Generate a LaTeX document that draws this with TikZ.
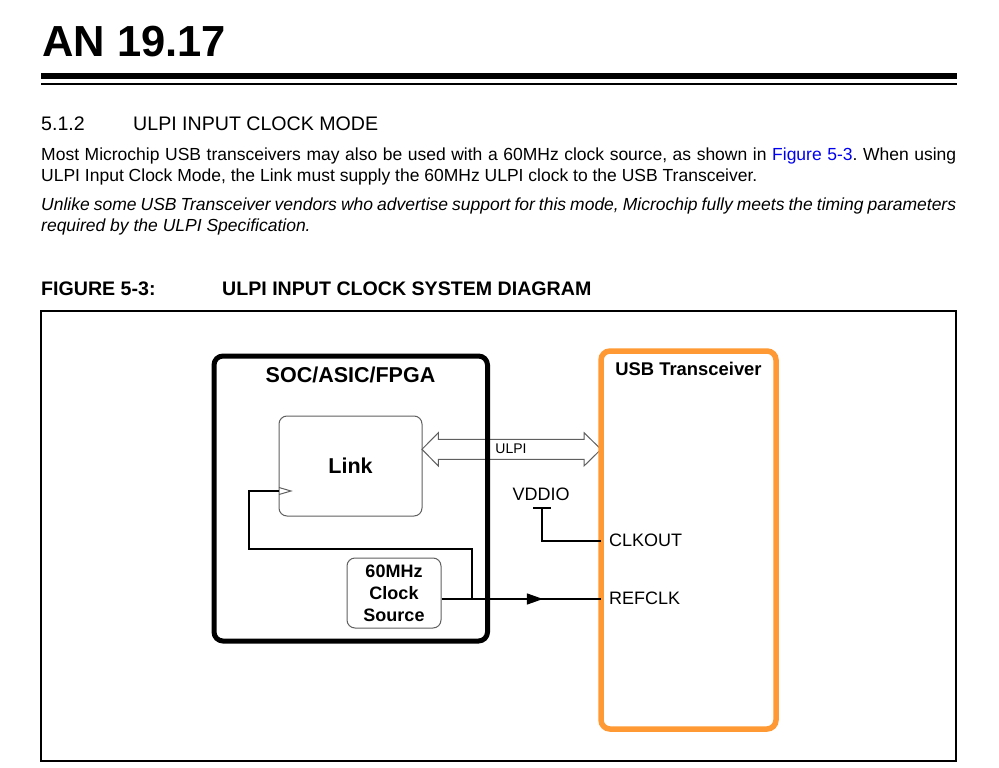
\documentclass[tikz,border=0pt]{standalone}
\usepackage{fontspec}
\setmainfont{Liberation Sans}
\usetikzlibrary{positioning,arrows.meta,decorations.markings}
\definecolor{usborange}{RGB}{255,153,51}
\definecolor{boxgray}{RGB}{95,95,95}
\definecolor{refblue}{RGB}{0,0,240}
\frenchspacing
\tikzset{
    pagetext/.style={anchor=base west, inner sep=0pt, font=\fontsize{17.5}{21}\selectfont},
    headtext/.style={anchor=base west, inner sep=0pt, font=\fontsize{19.6}{23}\selectfont},
    captext/.style={anchor=base west, inner sep=0pt, font=\fontsize{19.6}{23}\selectfont\bfseries},
    wire/.style={line width=1.2pt, black},
    socbox/.style={draw=black, line width=5pt, rounded corners=9pt, inner sep=0pt},
    usbbox/.style={draw=usborange, line width=5.5pt, rounded corners=9pt, inner sep=0pt},
    blockbox/.style={draw=boxgray, line width=1pt, rounded corners=8pt, inner sep=0pt, align=center},
    pinlabel/.style={inner sep=0pt, font=\fontsize{18}{22}\selectfont},
}
\begin{document}
\begin{tikzpicture}[x=1pt, y=-1pt]
    \useasboundingbox (0,0) rectangle (999,768);

    % page header
    \node[anchor=base west, inner sep=0pt, font=\fontsize{43.5}{50}\selectfont\bfseries] (pagetitle) at (42,57) {AN 19.17};
    \fill (41,73.3) rectangle (957,79.3);
    \fill (41,82.7) rectangle (957,85.3);

    \node[headtext] (secnum) at (41,130) {5.1.2};
    \node[headtext] (sectitle) at (133,130) {ULPI INPUT CLOCK MODE};

    \node[pagetext] (parA1) at (41,160) {\hbox to 915pt{Most Microchip USB transceivers may also be used with a 60MHz clock source, as shown in \textcolor{refblue}{Figure 5-3}. When using}};
    \node[pagetext] (parA2) at (41,181) {ULPI Input Clock Mode, the Link must supply the 60MHz ULPI clock to the USB Transceiver.};
    \node[pagetext, font=\fontsize{17.5}{21}\selectfont\itshape] (parB1) at (41,210) {\hbox to 915pt{Unlike some USB Transceiver vendors who advertise support for this mode, Microchip fully meets the timing parameters}};
    \node[pagetext, font=\fontsize{17.5}{21}\selectfont\itshape] (parB2) at (41,231) {required by the ULPI Specification.};

    \node[captext] (fignum) at (41,295) {FIGURE 5-3:};
    \node[captext] (figtitle) at (222,295) {ULPI INPUT CLOCK SYSTEM DIAGRAM};

    % figure frame
    \draw[line width=1.3pt] (41,311) rectangle (956,761);

    % ULPI bus
    \draw[draw=boxgray, line width=1pt, fill=white]
        (422,449.3) -- (438.3,432.7) -- (438.3,439.3) -- (584,439.3) -- (584,432.7) -- (601,449.3)
        -- (584,466) -- (584,459.3) -- (438.3,459.3) -- (438.3,466) -- cycle;
    \node[inner sep=0pt, font=\fontsize{14}{16}\selectfont, anchor=base] (ulpi) at (511,453) {ULPI};

    % blocks
    \node[socbox, minimum width=273.5pt, minimum height=285pt] (soc) at (350.75,498.5) {};
    \node[anchor=base, inner sep=0pt, font=\fontsize{21.5}{25}\selectfont\bfseries] (soctitle) at (350.5,382.7) {SOC/ASIC/FPGA};
    \node[usbbox, minimum width=175pt, minimum height=378pt] (usb) at (688.5,540) {};
    \node[anchor=base, inner sep=0pt, font=\fontsize{18.4}{22}\selectfont\bfseries] (usbtitle) at (688.5,375) {USB Transceiver};
    \node[blockbox, minimum width=143pt, minimum height=100pt, font=\fontsize{21.5}{25}\selectfont\bfseries] (link) at (350.5,466) {Link};
    \node[blockbox, minimum width=94pt, minimum height=70pt, font=\fontsize{18}{22}\selectfont\bfseries] (clk) at (394,593) {60MHz\\Clock\\Source};

    % pins
    \coordinate (clkpin) at (601,541);
    \coordinate (refpin) at (601,599);
    \node[pinlabel, anchor=base west] (clkout) at (609,546) {CLKOUT};
    \node[pinlabel, anchor=base west] (refclk) at (609,604) {REFCLK};
    \node[pinlabel, anchor=base] (vddio) at (541,500) {VDDIO};

    % clock wiring
    \coordinate (tap) at (472,599);
    \coordinate (fbcorner) at (249,549);
    \coordinate (clkin) at (279,491);
    \draw[wire, decoration={markings, mark=at position 0.636 with {\arrow{Triangle[length=16pt,width=11pt]}}}, postaction={decorate}]
        (clk.east |- refpin) -- (refpin);
    \draw[wire] (tap) |- (fbcorner) |- (clkin);
    \draw[boxgray, line width=1pt] (clkin) ++(0,-3.5) -- ++(12,3.5) -- ++(-12,3.5);

    % VDDIO tie
    \coordinate (vddbar) at (542,508);
    \draw[wire] ([xshift=-9pt]vddbar) -- ([xshift=9pt]vddbar);
    \draw[wire] (vddbar) |- (clkpin);
\end{tikzpicture}
\end{document}
